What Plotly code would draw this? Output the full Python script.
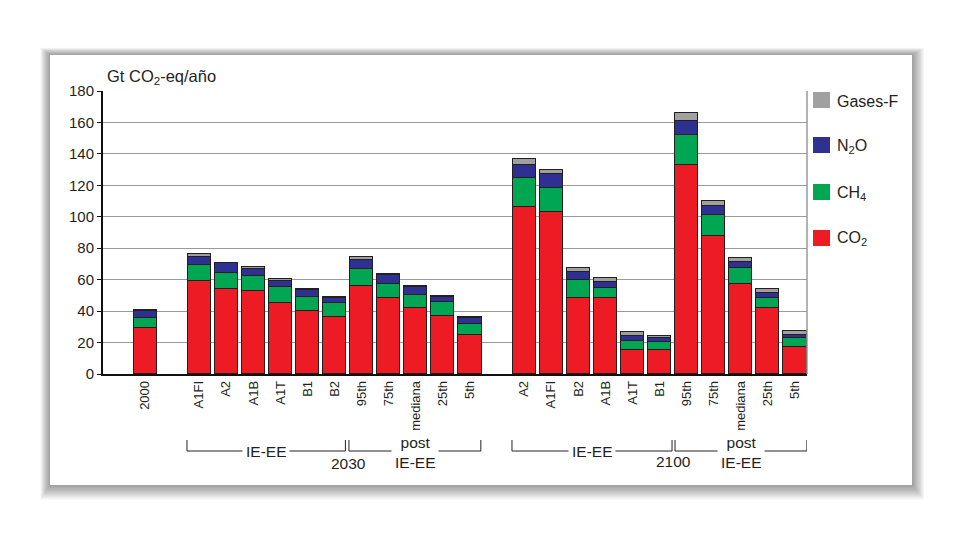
import plotly.graph_objects as go

# ---------------- data ----------------
cat_2000 = ["2000"]
cat_2030 = ["A1FI", "A2", "A1B", "A1T", "B1", "B2", "95th", "75th", "mediana", "25th", "5th"]
cat_2100 = ["A2", "A1FI", "B2", "A1B", "A1T", "B1", "95th", "75th", "mediana", "25th", "5th"]

co2_2000 = [29.1]
ch4_2000 = [6.6]
n2o_2000 = [4.4]
gasf_2000 = [0.3]

co2_2030 = [59.1, 54.3, 52.8, 45.3, 40.2, 36.2, 55.7, 48.1, 42.1, 37.2, 24.9]
ch4_2030 = [10.5, 10.0, 9.5, 10.2, 8.9, 9.1, 11.3, 9.3, 8.3, 8.3, 7.2]
n2o_2030 = [5.1, 6.1, 4.7, 3.6, 4.4, 3.2, 5.3, 5.3, 4.8, 3.5, 3.7]
gasf_2030 = [1.9, 0.5, 1.3, 1.1, 0.8, 0.6, 2.4, 1.1, 1.0, 0.6, 0.6]

co2_2100 = [106.1, 103.2, 48.6, 48.6, 15.0, 15.2, 133.0, 87.6, 57.0, 42.2, 17.1]
ch4_2100 = [18.4, 15.0, 11.4, 6.4, 6.1, 5.1, 18.8, 13.8, 10.4, 6.4, 5.5]
n2o_2100 = [8.5, 9.3, 4.7, 3.6, 3.0, 2.5, 9.2, 5.5, 3.6, 3.1, 2.3]
gasf_2100 = [3.8, 2.3, 3.0, 2.7, 2.3, 1.1, 4.8, 3.1, 2.5, 2.2, 2.3]

y_ticks = [0, 20, 40, 60, 80, 100, 120, 140, 160, 180]
series_names = ["CO<sub>2</sub>", "CH<sub>4</sub>", "N<sub>2</sub>O", "Gases-F"]
series_colors = ["#ED1C24", "#00A651", "#2E3192", "#A0A0A0"]

# ---------------- layout helpers ----------------
OFF = 8  # default page body margin
W, H = 959 - OFF, 556 - OFF
PL, PR, PT, PB = 103, 807, 91, 374  # plot area in page pixels


def px_x(p):
    return (p - PL) / (PR - PL)


def px_y(p):
    return (PB - p) / (PB - PT)


groups = [cat_2000, cat_2030, cat_2100]
xpos = []
group_pos = []
pos = 0
for grp in groups:
    gp = []
    for _ in grp:
        xpos.append(pos)
        gp.append(pos)
        pos += 1
    group_pos.append(gp)
    pos += 1
cats = cat_2000 + cat_2030 + cat_2100

series_values = [
    co2_2000 + co2_2030 + co2_2100,
    ch4_2000 + ch4_2030 + ch4_2100,
    n2o_2000 + n2o_2030 + n2o_2100,
    gasf_2000 + gasf_2030 + gasf_2100,
]

fig = go.Figure()
for name, col, vals in zip(series_names, series_colors, series_values):
    fig.add_trace(go.Bar(
        x=xpos, y=vals, name=name, width=0.85,
        marker=dict(color=col, line=dict(color="#231F20", width=1.5)),
        showlegend=False,
    ))

TXT = "#231F20"
FONT = "Liberation Sans, Arial, Helvetica, sans-serif"
shapes = []
annotations = []

# card with soft shadow
for i in range(12, 0, -1):
    shapes.append(dict(
        type="rect", xref="paper", yref="paper", layer="below",
        x0=px_x(50 - i * 0.8), x1=px_x(912 + i * 1.0),
        y0=px_y(485 + i * 1.2), y1=px_y(55 - i * 0.6),
        line=dict(width=0), fillcolor="rgba(0,0,0,0.035)",
    ))
shapes.append(dict(
    type="rect", xref="paper", yref="paper", layer="below",
    x0=px_x(50), x1=px_x(912), y0=px_y(485), y1=px_y(55),
    line=dict(width=0), fillcolor="white",
))

# right border of plot area
shapes.append(dict(type="line", xref="paper", yref="paper", x0=1, x1=1, y0=0, y1=1,
                   line=dict(color="#999999", width=1.5)))

# group brackets
g30 = group_pos[1]
g21 = group_pos[2]
brackets = [
    (g30[0] - 0.45, g30[5] + 0.4, "IE-EE"),
    (g30[6] - 0.47, g30[10] + 0.4, "post<br>IE-EE"),
    (g21[0] - 0.45, g21[5] + 0.46, "IE-EE"),
    (g21[6] - 0.43, g21[10] + 0.44, "post<br>IE-EE"),
]
for x0, x1, label in brackets:
    ly = px_y(451)
    ty = px_y(440)
    shapes.append(dict(type="line", xref="x", yref="paper", x0=x0, x1=x1, y0=ly, y1=ly,
                       line=dict(color="#222222", width=1)))
    for xe in (x0, x1):
        shapes.append(dict(type="line", xref="x", yref="paper", x0=xe, x1=xe, y0=ly, y1=ty,
                           line=dict(color="#222222", width=1)))
    annotations.append(dict(
        x=(x0 + x1) / 2, y=px_y(451 if label == "IE-EE" else 452), xref="x", yref="paper",
        text=label, showarrow=False, bgcolor="white", borderpad=3,
        font=dict(size=15.5, color=TXT, family=FONT), xanchor="center", yanchor="middle",
    ))

annotations.append(dict(x=(g30[5] + g30[6]) / 2, y=px_y(474), xref="x", yref="paper",
                        text="2030", showarrow=False, font=dict(size=15.5, color=TXT, family=FONT)))
annotations.append(dict(x=(g21[5] + g21[6]) / 2, y=px_y(472), xref="x", yref="paper",
                        text="2100", showarrow=False, font=dict(size=15.5, color=TXT, family=FONT)))

# axis title
annotations.append(dict(x=px_x(105), y=px_y(77), xref="paper", yref="paper",
                        text="Gt CO<sub>2</sub>-eq/año", showarrow=False, xanchor="left",
                        yanchor="middle", font=dict(size=16.5, color=TXT, family=FONT)))

# custom legend
legend_rows = [(3, 100), (2, 145), (1, 192), (0, 238)]
for idx, cy in legend_rows:
    shapes.append(dict(type="rect", xref="paper", yref="paper",
                       x0=px_x(813), x1=px_x(830), y0=px_y(cy + 8), y1=px_y(cy - 8),
                       line=dict(width=0), fillcolor=series_colors[idx]))
    annotations.append(dict(x=px_x(835), y=px_y(cy + 1), xref="paper", yref="paper",
                            text=series_names[idx], showarrow=False, xanchor="left",
                            yanchor="middle", font=dict(size=16, color=TXT, family=FONT)))

fig.update_layout(
    width=W, height=H,
    margin=dict(l=PL - OFF, r=W - (PR - OFF), t=PT - OFF, b=H - (PB - OFF), pad=0),
    paper_bgcolor="white", plot_bgcolor="rgba(0,0,0,0)",
    barmode="stack", bargap=0,
    font=dict(family=FONT, color=TXT),
    shapes=shapes, annotations=annotations,
    xaxis=dict(
        range=[-1.551, 24.443], tickmode="array", tickvals=xpos, ticktext=cats,
        tickangle=-90, tickfont=dict(size=13, color=TXT, family=FONT),
        showline=True, linecolor="#111111", linewidth=1.5, showgrid=False,
        zeroline=False, ticks="", fixedrange=True,
    ),
    yaxis=dict(
        range=[0, 180], tickmode="array", tickvals=y_ticks,
        tickfont=dict(size=15, color=TXT, family=FONT),
        showline=True, linecolor="#111111", linewidth=2, ticks="outside", ticklen=4,
        tickcolor="#111111", gridcolor="#9A9A9A", gridwidth=1, zeroline=False,
    ),
)

fig.write_html("out.html")
